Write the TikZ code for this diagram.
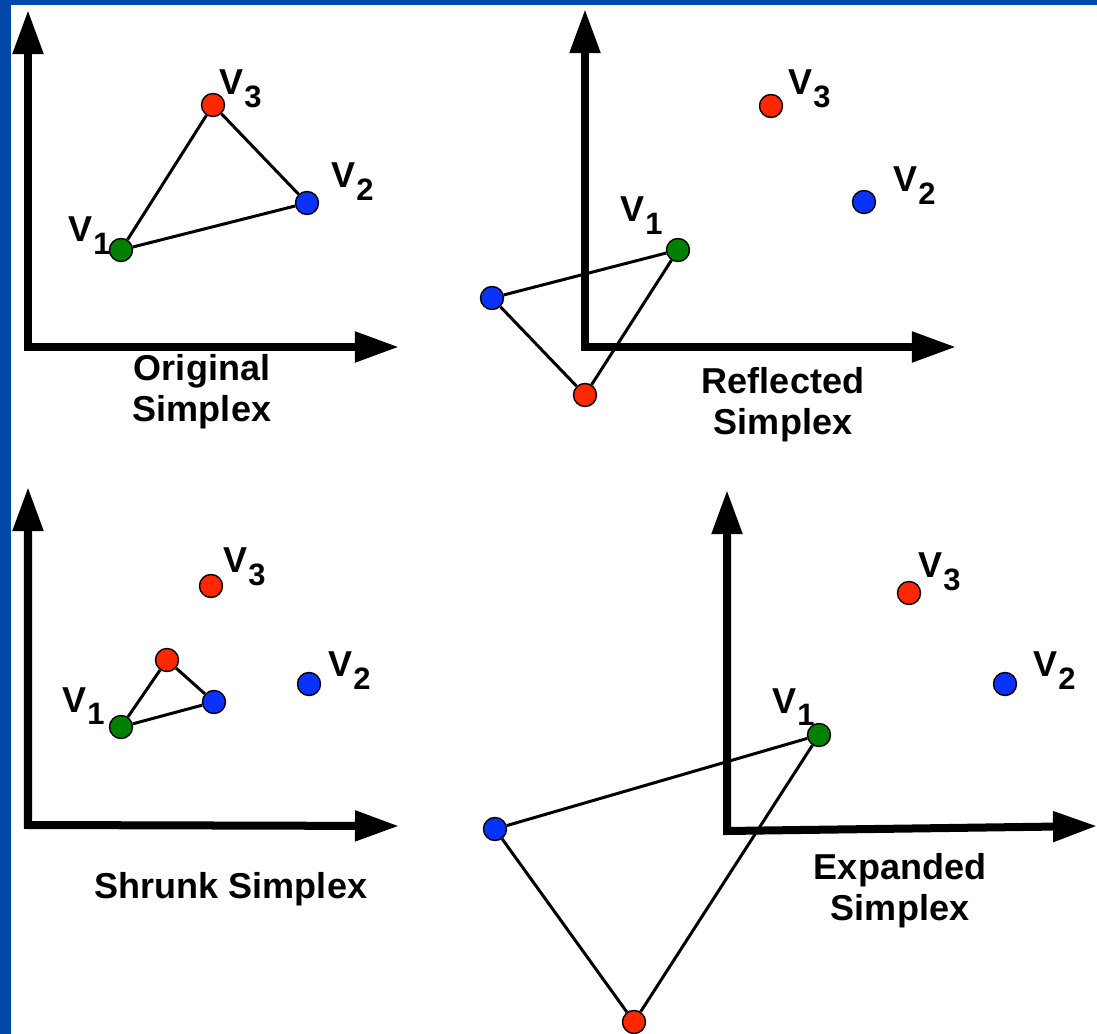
\documentclass[tikz,border=0pt]{standalone}
\usepackage{fontspec}
\setmainfont{Liberation Sans}
\usetikzlibrary{arrows.meta}
\definecolor{framebar}{RGB}{0,72,170}
\definecolor{vgreen}{RGB}{0,128,0}
\definecolor{vred}{RGB}{255,40,0}
\definecolor{vblue}{RGB}{10,50,255}
\newcommand{\vlab}[1]{V\kern0.2pt\raisebox{-3.6pt}{\fontsize{8.8}{8.8}\selectfont #1}}

\begin{document}
\begin{tikzpicture}[x=0.01cm, y=-0.01cm,
    axisline/.style={line width=0.08cm, line join=miter, {Triangle[length=0.44cm,width=0.29cm]}-{Triangle[length=0.44cm,width=0.29cm]}},
    dot/.style={circle, draw, line width=0.4pt, minimum size=0.23cm, inner sep=0pt},
    side/.style={line width=0.03cm},
    vlabel/.style={anchor=base west, inner sep=0pt, font=\bfseries\fontsize{10.24}{10.24}\selectfont},
    caption/.style={align=center, inner sep=0pt, font=\bfseries\fontsize{10.24}{11.66}\selectfont}]
    \useasboundingbox (0,0) rectangle (1097,1034);
    \fill[framebar] (0,0) rectangle (11,1034);
    \fill[framebar] (0,0) rectangle (1097,5);

    \coordinate (oA) at (28,347);
    \coordinate (yA) at (28,10);
    \coordinate (xA) at (399,347);
    \draw [axisline] (yA) -- (oA) -- (xA);
    \node (a1) [dot, fill=vgreen] at (121,250) {};
    \node (a2) [dot, fill=vblue] at (307,203) {};
    \node (a3) [dot, fill=vred] at (213,105) {};
    \draw [side] (a1) -- (a2);
    \draw [side] (a2) -- (a3);
    \draw [side] (a3) -- (a1);
    \node (la1) [vlabel] at (68,242) {\vlab{1}};
    \node (la2) [vlabel] at (331,188) {\vlab{2}};
    \node (la3) [vlabel] at (219,95) {\vlab{3}};
    \node (capA) [caption] at (202,392) {Original\\Simplex};

    \coordinate (oB) at (585,347);
    \coordinate (yB) at (585,9);
    \coordinate (xB) at (956,347);
    \draw [axisline] (yB) -- (oB) -- (xB);
    \node (b1) [dot, fill=vgreen] at (678,250) {};
    \node (b2) [dot, fill=vblue] at (864,202) {};
    \node (b3) [dot, fill=vred] at (771,106) {};
    \node (rb2) [dot, fill=vblue] at (492,298) {};
    \node (rb3) [dot, fill=vred] at (585,395) {};
    \draw [side] (b1) -- (rb2);
    \draw [side] (rb2) -- (rb3);
    \draw [side] (rb3) -- (b1);
    \node (lb1) [vlabel] at (620,222) {\vlab{1}};
    \node (lb2) [vlabel] at (893,192) {\vlab{2}};
    \node (lb3) [vlabel] at (788,95) {\vlab{3}};
    \node (capB) [caption] at (783,405) {Reflected\\Simplex};

    \coordinate (oC) at (28,825);
    \coordinate (yC) at (28,487);
    \coordinate (xC) at (399,826);
    \draw [axisline] (yC) -- (oC) -- (xC);
    \node (c1) [dot, fill=vgreen] at (121,727) {};
    \node (c2) [dot, fill=vblue] at (309,684) {};
    \node (c3) [dot, fill=vred] at (211,586) {};
    \node (sc2) [dot, fill=vblue] at (214,702) {};
    \node (sc3) [dot, fill=vred] at (167,660) {};
    \draw [side] (c1) -- (sc2);
    \draw [side] (sc2) -- (sc3);
    \draw [side] (sc3) -- (c1);
    \node (lc1) [vlabel] at (62,712) {\vlab{1}};
    \node (lc2) [vlabel] at (328,677) {\vlab{2}};
    \node (lc3) [vlabel] at (223,573) {\vlab{3}};
    \node (capC) [caption, anchor=base] at (231,898) {Shrunk Simplex};

    \coordinate (oD) at (727,831);
    \coordinate (yD) at (727,490);
    \coordinate (xD) at (1097,826);
    \draw [axisline] (yD) -- (oD) -- (xD);
    \node (d1) [dot, fill=vgreen] at (819,735) {};
    \node (d2) [dot, fill=vblue] at (1005,684) {};
    \node (d3) [dot, fill=vred] at (909,593) {};
    \node (ed2) [dot, fill=vblue] at (495,829) {};
    \node (ed3) [dot, fill=vred] at (634,1022) {};
    \draw [side] (d1) -- (ed2);
    \draw [side] (ed2) -- (ed3);
    \draw [side] (ed3) -- (d1);
    \node (ld1) [vlabel] at (772,713) {\vlab{1}};
    \node (ld2) [vlabel] at (1033,677) {\vlab{2}};
    \node (ld3) [vlabel] at (918,578) {\vlab{3}};
    \node (capD) [caption] at (900,891) {Expanded\\Simplex};
\end{tikzpicture}
\end{document}
